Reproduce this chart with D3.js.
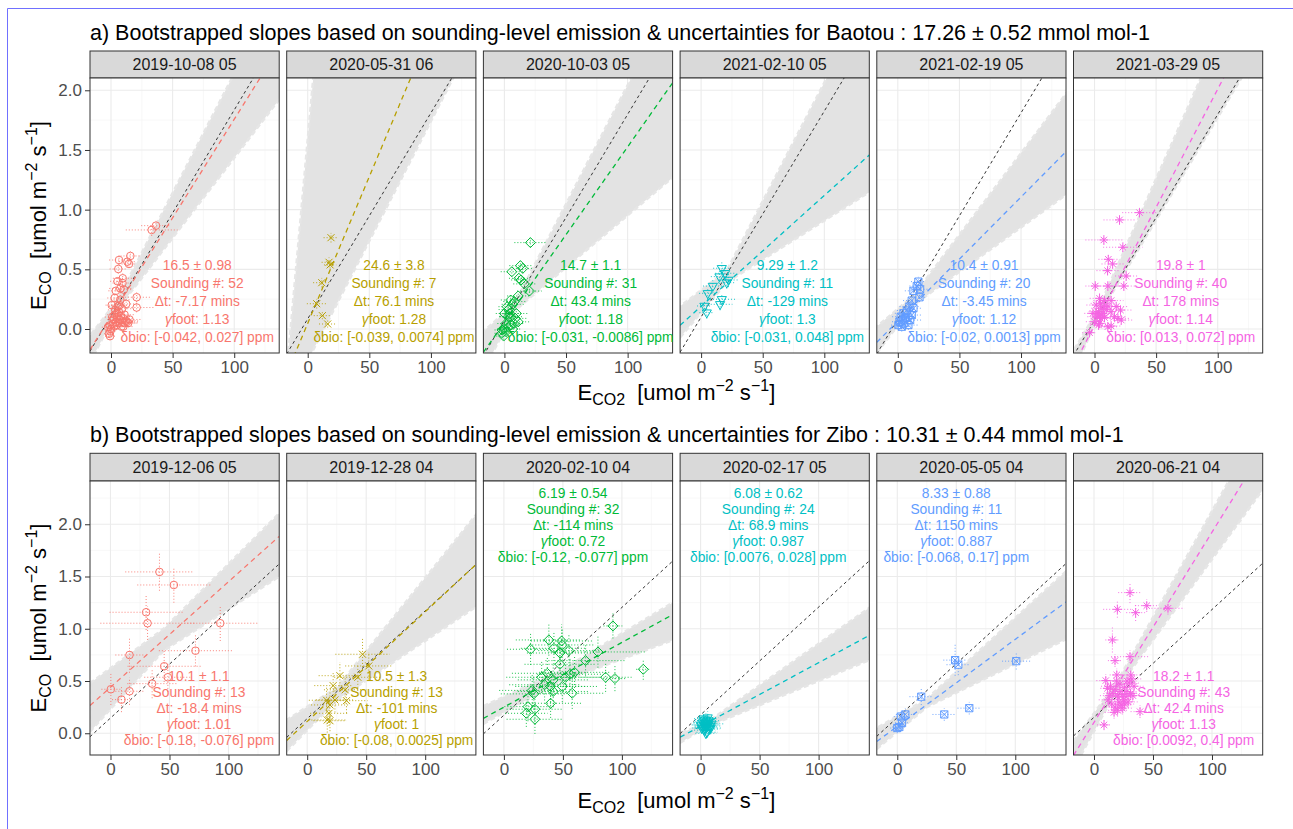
<!DOCTYPE html>
<html><head><meta charset="utf-8">
<script src="https://cdn.jsdelivr.net/npm/d3@7"></script>
<style>
body{margin:0;background:#fff}
svg{display:block}
text{font-family:"Liberation Sans",Arial,Helvetica,sans-serif}
</style></head>
<body><svg id="c" width="1293" height="829"></svg>
<script>
// ---------------- DATA ----------------
const titleA = "a) Bootstrapped slopes based on sounding-level emission & uncertainties for Baotou : 17.26 ± 0.52 mmol mol-1";
const titleB = "b) Bootstrapped slopes based on sounding-level emission & uncertainties for Zibo : 10.31 ± 0.44 mmol mol-1";
const datesA = ["2019-10-08 05","2020-05-31 06","2020-10-03 05","2021-02-10 05","2021-02-19 05","2021-03-29 05"];
const datesB = ["2019-12-06 05","2019-12-28 04","2020-02-10 04","2020-02-17 05","2020-05-05 04","2020-06-21 04"];
const panelColors = ["#F8766D","#B79F00","#00BA38","#00BFC4","#619CFF","#F564E3"];
const panelShapes = ["circle","cross","diamond","triangleDown","squareX","asterisk"];
const xTicks = [0,50,100];
const yTicks = [0,0.5,1.0,1.5,2.0];

// fitted slopes (mmol/mol) and intercepts (umol m-2 s-1)
const fitSlopesA = [16.5,24.6,14.7,9.29,10.4,19.8];
const fitInterceptsA = [0.107,0.047,0.056,0.19,0.066,0.03];
const fitSlopesB = [10.1,10.5,6.19,6.08,8.33,18.2];
const fitInterceptsB = [0.44,0.113,0.25,0.067,0.066,0.104];
const refSlopeA = 17.26, refSlopeB = 10.31;
const refInterceptsA = [0.109,0.085,0.072,0.10,0.085,0.072];
const refInterceptsB = [0.146,0.14,0.173,0.176,0.15,0.153];

const labelsA = [
 ["16.5 ± 0.98","Sounding #: 52","Δt: -7.17 mins","foot: 1.13","δbio: [-0.042, 0.027] ppm"],
 ["24.6 ± 3.8","Sounding #: 7","Δt: 76.1 mins","foot: 1.28","δbio: [-0.039, 0.0074] ppm"],
 ["14.7 ± 1.1","Sounding #: 31","Δt: 43.4 mins","foot: 1.18","δbio: [-0.031, -0.0086] ppm"],
 ["9.29 ± 1.2","Sounding #: 11","Δt: -129 mins","foot: 1.3","δbio: [-0.031, 0.048] ppm"],
 ["10.4 ± 0.91","Sounding #: 20","Δt: -3.45 mins","foot: 1.12","δbio: [-0.02, 0.0013] ppm"],
 ["19.8 ± 1","Sounding #: 40","Δt: 178 mins","foot: 1.14","δbio: [0.013, 0.072] ppm"]
];
const labelsB = [
 ["10.1 ± 1.1","Sounding #: 13","Δt: -18.4 mins","foot: 1.01","δbio: [-0.18, -0.076] ppm"],
 ["10.5 ± 1.3","Sounding #: 13","Δt: -101 mins","foot: 1","δbio: [-0.08, 0.0025] ppm"],
 ["6.19 ± 0.54","Sounding #: 32","Δt: -114 mins","foot: 0.72","δbio: [-0.12, -0.077] ppm"],
 ["6.08 ± 0.62","Sounding #: 24","Δt: 68.9 mins","foot: 0.987","δbio: [0.0076, 0.028] ppm"],
 ["8.33 ± 0.88","Sounding #: 11","Δt: 1150 mins","foot: 0.887","δbio: [-0.068, 0.17] ppm"],
 ["18.2 ± 1.1","Sounding #: 43","Δt: 42.4 mins","foot: 1.13","δbio: [0.0092, 0.4] ppm"]
];

// soundings: [E_CO2, E_CO, sd E_CO2, sd E_CO]
const pointsA1 = [[33,0.83,21,0.05],[36.5,0.866,12,0.04],[6.5,0.578,8,0.04],[15.7,0.612,8,0.04],[13.3,0.564,7,0.04],[14.6,0.545,6,0.03],[5.9,0.503,7,0.04],[9.5,0.425,8,0.04],[5.3,0.40,6,0.03],[9.3,0.385,8,0.04],[7.6,0.34,9,0.04],[3.9,0.32,6,0.03],[10.4,0.33,7,0.04],[20.8,0.266,12,0.04],[3.0,0.26,6,0.03],[7.6,0.245,8,0.04],[12.3,0.21,9,0.04],[0.6,0.2,5,0.03],[5.3,0.19,7,0.04],[20.8,0.18,14,0.04],[9,0.17,8,0.04],[-1.6,-0.04,4,0.03],[-0.8,-0.06,4,0.03],[-2.4,0.015,5,0.03],
 [1,0.1,6,0.03],[2,0.08,5,0.03],[3,0.12,6,0.03],[4,0.06,6,0.03],[5,0.1,7,0.04],[6,0.05,8,0.03],[7,0.08,8,0.03],[8,0.11,7,0.03],[9,0.06,9,0.03],[10,0.09,8,0.03],[11,0.05,9,0.03],[12,0.07,10,0.03],[13,0.06,9,0.03],[14,0.05,8,0.03],[2.5,0.02,5,0.03],[4.5,0.03,6,0.03],[6.5,0.14,6,0.03],[8.5,0.02,7,0.03],[1.5,0.04,5,0.03],[0,0.0,4,0.03],[-1,0.03,4,0.03],[3.5,0.16,6,0.03],[11,0.12,8,0.03],[15,0.08,9,0.03],[7,0.2,7,0.03],[5,0.13,6,0.03],[-0.5,-0.02,4,0.03],[10,0.02,8,0.03]];
const pointsA2 = [[18.9,0.765,6,0.04],[17.3,0.559,6,0.04],[18.2,0.537,5,0.03],[11.4,0.388,7,0.04],[7.3,0.212,8,0.04],[11.9,0.112,7,0.03],[16.2,0.042,7,0.03]];
const pointsA3 = [[21.1,0.724,13,0.04],[13,0.531,9,0.04],[14.9,0.508,8,0.04],[6,0.48,9,0.04],[11.7,0.425,8,0.04],[13.5,0.411,8,0.04],[16.2,0.378,9,0.04],[20.3,0.318,10,0.04],[11.2,0.277,9,0.04],[5.1,0.243,8,0.04],[6.8,0.207,9,0.04],[0,0.13,7,0.04],[3.3,0.163,8,0.04],[5.4,0.103,9,0.04],[8.9,0.089,9,0.04],[1.3,0.046,7,0.04],[5.1,0.033,8,0.04],[-2,-0.036,6,0.03],[-0.6,-0.059,6,0.03],[2.9,0.013,7,0.03],[7.8,0.046,8,0.04],[3.6,0.103,8,0.04],[11.2,0.06,9,0.04],[0,0.0,6,0.03],[6.8,0.0,7,0.03],[2.2,0.187,7,0.04],[8.1,0.23,9,0.04],[4.3,0.13,8,0.04],[9.7,0.13,9,0.04],[-2,-0.008,6,0.03],[1.3,-0.022,6,0.03]];
const pointsA4 = [[16.8,0.509,7,0.06],[19.5,0.467,8,0.06],[14.9,0.439,7,0.06],[22.2,0.411,8,0.06],[20.8,0.388,7,0.05],[9.5,0.36,8,0.06],[5.4,0.299,7,0.05],[16.8,0.249,12,0.05],[15.4,0.207,10,0.05],[2.7,0.193,6,0.05],[4.6,0.137,6,0.05]];
const pointsA5 = [[16.7,0.397,6,0.04],[15.4,0.36,6,0.04],[18.1,0.333,7,0.04],[12.7,0.32,7,0.04],[17.6,0.266,6,0.04],[11.3,0.238,7,0.04],[9.4,0.188,8,0.04],[12.7,0.174,7,0.04],[7.3,0.155,8,0.04],[4.6,0.132,7,0.04],[2.4,0.103,7,0.04],[6.7,0.098,8,0.04],[10,0.075,9,0.04],[1.3,0.061,6,0.04],[4.6,0.047,7,0.04],[8.6,0.033,8,0.04],[0.5,0.033,6,0.04],[3.2,0.019,6,0.04],[5.9,0.09,7,0.04],[11.3,0.117,8,0.04]];
const pointsA6 = [[36.5,0.975,14,0.04],[20.3,0.914,13,0.04],[7.6,0.746,15,0.04],[23,0.685,16,0.04],[11.2,0.584,8,0.05],[14.7,0.545,9,0.04],[10.6,0.489,9,0.04],[25.7,0.444,9,0.04],[0.6,0.36,8,0.04],[10.8,0.36,9,0.04],[23.8,0.36,9,0.04],[4.1,0.257,8,0.04],[8.1,0.238,9,0.04],[13.5,0.238,10,0.04],[1.4,0.201,8,0.04],[5.4,0.174,8,0.04],[9.5,0.165,9,0.04],[3.3,0.145,8,0.04],[6.8,0.131,8,0.04],[21.1,0.159,9,0.04],[13.5,0.145,9,0.04],[2.2,0.103,8,0.04],[4.9,0.089,8,0.04],[8.1,0.096,8,0.04],[19,0.089,9,0.04],[21.7,0.075,9,0.04],[0,0.061,7,0.04],[4.1,0.047,8,0.04],[13.5,0.025,8,0.04],[-4,-0.031,6,0.04],[6,0.117,8,0.04],[10.8,0.193,9,0.04],[16.2,0.103,9,0.04],[1.4,0.131,7,0.04],[7.6,0.188,8,0.04],[3.3,0.033,7,0.04],[10.8,0.019,8,0.04],[-1.3,0.131,7,0.04],[17.6,0.188,9,0.04],[4.9,0.215,8,0.04]];

const pointsB1 = [[41.5,1.544,29,0.18],[53.7,1.419,31,0.17],[30.2,1.158,31,0.17],[31.4,1.053,40,0.16],[93,1.053,33,0.17],[16.1,0.749,12,0.17],[72,0.79,31,0.15],[45.5,0.641,31,0.15],[35.3,0.475,21,0.14],[0.3,0.421,8,0.15],[16.1,0.402,12,0.13],[9.3,0.322,8,0.12],[48.6,0.536,20,0.14]];
const pointsB2 = [[46.9,0.756,23,0.15],[52.2,0.644,20,0.13],[27.7,0.551,18,0.13],[42.9,0.536,20,0.13],[22,0.456,16,0.12],[32.2,0.416,18,0.13],[16.4,0.316,15,0.12],[23.5,0.319,16,0.12],[19.3,0.271,16,0.12],[33.3,0.312,18,0.12],[18.5,0.191,16,0.12],[17,0.127,16,0.12],[19.3,0.12,14,0.1]];
const pointsB3 = [[92.4,1.027,8,0.12],[38.1,0.893,28,0.15],[22.6,0.804,20,0.15],[48.9,0.883,26,0.16],[49.5,0.845,28,0.15],[42.4,0.813,28,0.15],[55.1,0.791,26,0.15],[47.5,0.768,28,0.15],[79.7,0.778,40,0.15],[69.2,0.695,34,0.15],[47.5,0.66,30,0.15],[118.1,0.612,6,0.1],[59.9,0.583,30,0.15],[56,0.565,28,0.15],[36.8,0.574,30,0.15],[86.2,0.536,22,0.14],[94.1,0.523,10,0.12],[32,0.536,30,0.15],[52.3,0.536,30,0.15],[41.8,0.511,30,0.15],[34.5,0.464,30,0.15],[39.6,0.448,30,0.15],[49.5,0.448,30,0.15],[24,0.41,28,0.15],[41.8,0.4,30,0.15],[57.9,0.383,28,0.15],[25.4,0.377,28,0.15],[39.6,0.287,26,0.14],[20.4,0.255,20,0.14],[26.3,0.23,24,0.14],[19,0.191,18,0.13],[26.3,0.134,24,0.14]];
const pointsB4 = [[3,0.08,9,0.06],[4,0.1,10,0.06],[5,0.06,10,0.06],[6,0.09,9,0.06],[1,0.05,8,0.05],[8,0.07,10,0.06],[4.5,0.13,9,0.06],[3.5,0.03,9,0.06],[5.5,0.11,10,0.06],[7.5,0.04,9,0.05],[2,0.1,8,0.06],[9,0.09,11,0.06],[4,0.07,9,0.06],[5.5,0.01,9,0.05],[2.5,0.12,8,0.06],[7,0.12,10,0.06],[0.5,0.08,8,0.05],[6,0.15,9,0.06],[4.5,0.0,9,0.05],[6.5,0.08,10,0.06],[3.8,0.05,9,0.06],[8.5,0.05,10,0.06],[2.5,0.14,8,0.06],[5.2,0.095,9,0.06]];
const pointsB5 = [[49,0.70,10,0.15],[51.7,0.656,10,0.1],[100.8,0.69,12,0.08],[20.3,0.35,10,0.08],[6.8,0.18,8,0.06],[1.7,0.06,6,0.05],[39.8,0.18,10,0.06],[61,0.24,10,0.06],[0,0.05,6,0.05],[4,0.1,6,0.05],[3,0.16,6,0.05]];
const pointsB6 = [[30.5,1.346,10,0.1],[19.8,1.186,12,0.08],[44.7,1.221,10,0.06],[35.3,1.154,8,0.08],[62.7,1.196,14,0.06],[15.6,0.893,6,0.12],[17.8,0.695,6,0.06],[30.5,0.733,16,0.06],[19.3,0.558,6,0.06],[31.1,0.558,8,0.06],[10,0.504,8,0.06],[11.4,0.43,6,0.05],[8.5,0.08,6,0.05],[39,0.207,8,0.06],
 [14,0.45,8,0.06],[16,0.38,8,0.06],[18,0.42,8,0.06],[20,0.35,8,0.06],[22,0.4,8,0.06],[24,0.37,8,0.06],[26,0.44,8,0.06],[28,0.4,8,0.06],[30,0.48,8,0.06],[32,0.52,8,0.06],[34,0.45,8,0.06],[12,0.32,8,0.06],[15,0.28,8,0.06],[18,0.25,8,0.06],[21,0.3,8,0.06],[23,0.27,8,0.06],[25,0.32,8,0.06],[27,0.35,8,0.06],[29,0.3,8,0.06],[31,0.38,8,0.06],[17,0.2,8,0.06],[20,0.22,8,0.06],[24,0.24,8,0.06],[13,0.36,8,0.06],[26,0.28,8,0.06],[28,0.5,8,0.06],[33,0.36,8,0.06],[22,0.47,8,0.06],[19,0.5,8,0.06]];

// envelope of bootstrapped regression lines (data-coordinate outline)
const fanA1 = [[-17,-0.28],[5,0.16],[140,1.97],[140,2.94],[5,0.24],[-17,-0.055]];
const fanA2 = [[-16.1,-0.25],[5.8,2.25],[125.4,2.25],[0.7,-0.25]];
const fanA3 = [[-17,-0.35],[8,0.15],[140,1.30],[140,2.84],[8,0.21],[-17,-0.02]];
const fanA4 = [[-17,-0.07],[20.8,0.39],[140,1.17],[140,2.86],[20.8,0.49],[-17,0.19]];
const fanA5 = [[-17,-0.2],[12.7,0.2],[140,1.15],[140,2.02],[12.7,0.28],[-17,0.02]];
const fanA6 = [[-17,-0.36],[2.7,0.1],[140,2.46],[140,3.35],[2.7,0.16],[-17,-0.18]];
const fanB1 = [[-17.4,0.015],[45,0.79],[143,1.5],[143,2.105],[45,1.0],[-17.4,0.478]];
const fanB2 = [[-17.4,-0.17],[25.4,0.32],[143,1.21],[143,2.09],[25.4,0.44],[-17.4,0.127]];
const fanB3 = [[-17.4,0.09],[45,0.48],[143,0.89],[143,1.25],[45,0.58],[-17.4,0.26]];
const fanB4 = [[-17.4,-0.09],[5,0.06],[143,0.70],[143,1.2],[5,0.1],[-17.4,0.0]];
const fanB5 = [[-17.4,-0.15],[25,0.25],[143,0.9],[143,1.55],[25,0.33],[-17.4,0.05]];
const fanB6 = [[-17.4,-0.34],[20,0.43],[143,2.33],[143,3.0],[20,0.5],[-17.4,-0.076]];

// ---------------- LAYOUT ----------------
const FONT = '"Liberation Sans", Arial, Helvetica, sans-serif';
const panelX0 = 90, panelStep = 196.7, panelW = 189.2;
const rows = [
 {title:titleA, dates:datesA, pts:[pointsA1,pointsA2,pointsA3,pointsA4,pointsA5,pointsA6],
  fans:[fanA1,fanA2,fanA3,fanA4,fanA5,fanA6], slopes:fitSlopesA, ints:fitInterceptsA,
  refSlope:refSlopeA, refInts:refInterceptsA, labels:labelsA,
  labPos:[[70,-0.067,"b"],[70,-0.067,"b"],[70,-0.067,"b"],[70,-0.067,"b"],[70,-0.067,"b"],[70,-0.067,"b"]],
  titleY:39.5, stripTop:51, top:78, bottom:353, xd:[-17.05,136.5], yd:[-0.201,2.103], lineH:18, xTitleY:400},
 {title:titleB, dates:datesB, pts:[pointsB1,pointsB2,pointsB3,pointsB4,pointsB5,pointsB6],
  fans:[fanB1,fanB2,fanB3,fanB4,fanB5,fanB6], slopes:fitSlopesB, ints:fitInterceptsB,
  refSlope:refSlopeB, refInts:refInterceptsB, labels:labelsB,
  labPos:[[75,-0.064,"b"],[75.8,-0.064,"b"],[58.6,2.297,"t"],[57.3,2.297,"t"],[50,2.297,"t"],[76,-0.064,"b"]],
  titleY:442, stripTop:453.3, top:481, bottom:755, xd:[-17.37,142.97], yd:[-0.208,2.414], lineH:16, xTitleY:808}
];

const svg = d3.select("#c");
svg.append("rect").attr("x",0).attr("y",0).attr("width",1293).attr("height",829).attr("fill","#fff");
svg.append("path").attr("d","M7.5,829V8.5H1293").attr("fill","none").attr("stroke","#7070ff").attr("stroke-width",1);
const defs = svg.append("defs");

const shapePaths = {
  cross:"M-3.5,-3.5L3.5,3.5M-3.5,3.5L3.5,-3.5",
  diamond:"M0,-5L5,0L0,5L-5,0Z",
  triangleDown:"M-4.6,-2.7L4.6,-2.7L0,5.3Z",
  squareX:"M-3.6,-3.6H3.6V3.6H-3.6ZM-3.6,-3.6L3.6,3.6M-3.6,3.6L3.6,-3.6",
  asterisk:"M-4.5,0H4.5M0,-4.5V4.5M-3.2,-3.2L3.2,3.2M-3.2,3.2L3.2,-3.2"
};

function axisTitle(g, x, y, rotate, subText){
  const t = g.append("text").attr("font-size",22).attr("fill","#000")
    .attr("text-anchor","middle")
    .attr("transform", `translate(${x},${y})` + (rotate ? " rotate(-90)" : ""));
  t.append("tspan").text("E");
  t.append("tspan").attr("font-size",16).attr("dy",5).text(subText);
  t.append("tspan").attr("dy",-5).text("\u00a0\u00a0[umol m");
  t.append("tspan").attr("font-size",16).attr("dy",-9).text("\u22122");
  t.append("tspan").attr("dy",9).text(" s");
  t.append("tspan").attr("font-size",16).attr("dy",-9).text("\u22121");
  t.append("tspan").attr("dy",9).text("]");
}

rows.forEach((row, ri) => {
  svg.append("text").attr("x",panelX0).attr("y",row.titleY).attr("font-size",21.5)
    .attr("fill","#000").text(row.title);
  const y = d3.scaleLinear().domain(row.yd).range([row.bottom,row.top]);
  for (let p=0;p<6;p++){
    const L = panelX0 + p*panelStep;
    const x = d3.scaleLinear().domain(row.xd).range([L, L+panelW]);
    const col = panelColors[p];
    const g = svg.append("g");
    // strip
    g.append("rect").attr("x",L).attr("y",row.stripTop).attr("width",panelW).attr("height",row.top-row.stripTop)
      .attr("fill","#D9D9D9").attr("stroke","#333333").attr("stroke-width",1);
    g.append("text").attr("x",L+panelW/2).attr("y",(row.stripTop+row.top)/2+5.5).attr("text-anchor","middle")
      .attr("font-size",16).attr("fill","#1A1A1A").text(row.dates[p]);
    // panel bg
    g.append("rect").attr("x",L).attr("y",row.top).attr("width",panelW).attr("height",row.bottom-row.top).attr("fill","#fff");
    const cid = `clip${ri}_${p}`;
    defs.append("clipPath").attr("id",cid).append("rect").attr("x",L).attr("y",row.top).attr("width",panelW).attr("height",row.bottom-row.top);
    const pg = g.append("g").attr("clip-path",`url(#${cid})`);
    // grid
    const xMinor = [-25,25,75,125], yMinor = d3.range(-0.25,2.5,0.5);
    pg.selectAll(".gxm").data(xMinor).join("line").attr("x1",d=>x(d)).attr("x2",d=>x(d)).attr("y1",row.top).attr("y2",row.bottom).attr("stroke","#F3F3F3").attr("stroke-width",0.6);
    pg.selectAll(".gym").data(yMinor).join("line").attr("y1",d=>y(d)).attr("y2",d=>y(d)).attr("x1",L).attr("x2",L+panelW).attr("stroke","#F3F3F3").attr("stroke-width",0.6);
    pg.selectAll(".gx").data(xTicks).join("line").attr("x1",d=>x(d)).attr("x2",d=>x(d)).attr("y1",row.top).attr("y2",row.bottom).attr("stroke","#EBEBEB").attr("stroke-width",1.1);
    pg.selectAll(".gy").data(yTicks).join("line").attr("y1",d=>y(d)).attr("y2",d=>y(d)).attr("x1",L).attr("x2",L+panelW).attr("stroke","#EBEBEB").attr("stroke-width",1.1);
    // fan of bootstrapped lines
    const fan = row.fans[p];
    const line = d3.line().x(d=>x(d[0])).y(d=>y(d[1]));
    pg.append("path").attr("d", line(fan)+"Z").attr("fill","#E3E3E3");
    pg.append("path").attr("d", line(fan)+"Z").attr("fill","none").attr("stroke","#E6E6E6")
      .attr("stroke-width",2.5).attr("stroke-dasharray","5,3");
    // reference (city) slope line
    const xd = row.xd;
    const refF = v => row.refInts[p] + row.refSlope/1000*v;
    pg.append("line").attr("x1",x(xd[0])).attr("y1",y(refF(xd[0]))).attr("x2",x(xd[1])).attr("y2",y(refF(xd[1])))
      .attr("stroke","#333").attr("stroke-width",1).attr("stroke-dasharray","3,3");
    // fitted line
    const fitF = v => row.ints[p] + row.slopes[p]/1000*v;
    pg.append("line").attr("x1",x(xd[0])).attr("y1",y(fitF(xd[0]))).attr("x2",x(xd[1])).attr("y2",y(fitF(xd[1])))
      .attr("stroke",col).attr("stroke-width",1.3).attr("stroke-dasharray","5,4");
    // error bars
    const pts = row.pts[p];
    pg.selectAll(".ex").data(pts).join("line").attr("x1",d=>x(d[0]-d[2])).attr("x2",d=>x(d[0]+d[2])).attr("y1",d=>y(d[1])).attr("y2",d=>y(d[1]))
      .attr("stroke",col).attr("stroke-width",0.9).attr("stroke-dasharray","1,2");
    pg.selectAll(".ey").data(pts).join("line").attr("x1",d=>x(d[0])).attr("x2",d=>x(d[0])).attr("y1",d=>y(d[1]-d[3])).attr("y2",d=>y(d[1]+d[3]))
      .attr("stroke",col).attr("stroke-width",0.9).attr("stroke-dasharray","1,2");
    // points
    const shp = panelShapes[p];
    if (shp==="circle"){
      pg.selectAll(".pt").data(pts).join("circle").attr("cx",d=>x(d[0])).attr("cy",d=>y(d[1])).attr("r",3.8)
        .attr("fill","none").attr("stroke",col).attr("stroke-width",1);
    } else {
      pg.selectAll(".pt").data(pts).join("path").attr("d",shapePaths[shp])
        .attr("transform",d=>`translate(${x(d[0])},${y(d[1])})`)
        .attr("fill","none").attr("stroke",col).attr("stroke-width",1);
    }
    // panel border
    g.append("rect").attr("x",L).attr("y",row.top).attr("width",panelW).attr("height",row.bottom-row.top)
      .attr("fill","none").attr("stroke","#333333").attr("stroke-width",1);
    // annotation
    const lp = row.labPos[p];
    const lines = row.labels[p];
    const cx = x(lp[0]), cy = y(lp[1]);
    lines.forEach((s,i)=>{
      const by = lp[2]==="b" ? cy + 5 - (4-i)*row.lineH : cy + 5 + i*row.lineH;
      const t = g.append("text").attr("x",cx).attr("y",by).attr("text-anchor","middle").attr("font-size",13.8).attr("fill",col);
      if (i===3){ t.append("tspan").attr("font-style","italic").text("γ"); t.append("tspan").text(s); }
      else t.text(s);
    });
    // x axis
    const xa = svg.append("g").attr("transform",`translate(0,${row.bottom})`)
      .call(d3.axisBottom(x).tickValues(xTicks).tickSize(5).tickPadding(3).tickFormat(d3.format("d")));
    xa.select(".domain").remove();
    xa.selectAll("line").attr("stroke","#333");
    xa.selectAll("text").attr("font-size",17).attr("fill","#4D4D4D").attr("font-family",FONT);
    if (p===0){
      const ya = svg.append("g").attr("transform",`translate(${L},0)`)
        .call(d3.axisLeft(y).tickValues(yTicks).tickSize(5).tickPadding(3).tickFormat(d3.format(".1f")));
      ya.select(".domain").remove();
      ya.selectAll("line").attr("stroke","#333");
      ya.selectAll("text").attr("font-size",17).attr("fill","#4D4D4D").attr("font-family",FONT);
    }
  }
  axisTitle(svg, panelX0 + (5*panelStep+panelW)/2, row.xTitleY, false, "CO2");
  axisTitle(svg, 45.5, (row.top+row.bottom)/2, true, "CO");
});
</script></body></html>
